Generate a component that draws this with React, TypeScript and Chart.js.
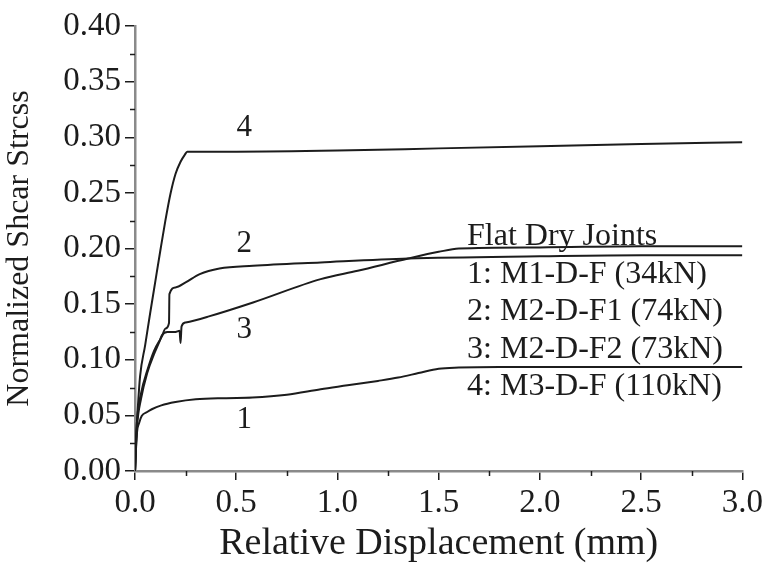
import React, { useEffect, useRef } from 'react';
import { Chart, registerables } from 'chart.js';

Chart.register(...registerables);

// ---- data ----
const xAxisTitle = 'Relative Displacement (mm)';
const yAxisTitle = 'Normalized Shcar Strcss';
const legendTitle = 'Flat Dry Joints';
const seriesNames = ['1: M1-D-F (34kN)', '2: M2-D-F1 (74kN)', '3: M2-D-F2 (73kN)', '4: M3-D-F (110kN)'];
const curveLabels = ['1', '2', '3', '4'];
const curveLabelX = [0.54, 0.54, 0.54, 0.54];
const curveLabelY = [0.046, 0.204, 0.127, 0.308];

const s1X = [0, 0.005, 0.01, 0.02, 0.033, 0.06, 0.083, 0.13, 0.2, 0.3, 0.45, 0.58, 0.75, 0.917, 1.05, 1.2, 1.3, 1.4, 1.5, 1.6, 1.8, 2.0, 2.5, 3.0];
const s1Y = [0, 0.02, 0.035, 0.043, 0.0495, 0.053, 0.0555, 0.059, 0.062, 0.0645, 0.0655, 0.066, 0.0685, 0.0735, 0.077, 0.081, 0.084, 0.088, 0.092, 0.093, 0.0935, 0.0935, 0.0935, 0.0935];

const s2X = [0, 0.005, 0.01, 0.03, 0.06, 0.094, 0.133, 0.15, 0.168, 0.17, 0.2, 0.25, 0.32, 0.417, 0.583, 0.917, 1.35, 2.0, 2.5, 3.0];
const s2Y = [0, 0.025, 0.045, 0.07, 0.09, 0.108, 0.121, 0.128, 0.133, 0.159, 0.165, 0.1695, 0.177, 0.182, 0.1845, 0.1875, 0.191, 0.193, 0.194, 0.194];

const s3X = [0, 0.005, 0.01, 0.03, 0.06, 0.094, 0.12, 0.133, 0.16, 0.2, 0.22, 0.225, 0.23, 0.25, 0.365, 0.583, 0.917, 1.1, 1.35, 1.5, 1.6, 2.0, 2.5, 3.0];
const s3Y = [0, 0.022, 0.04, 0.065, 0.088, 0.105, 0.116, 0.122, 0.125, 0.125, 0.126, 0.115, 0.13, 0.1335, 0.139, 0.1515, 0.1725, 0.18, 0.191, 0.197, 0.2, 0.201, 0.202, 0.202];

const s4X = [0, 0.004, 0.01, 0.025, 0.05, 0.075, 0.1, 0.125, 0.15, 0.175, 0.2, 0.225, 0.245, 0.258, 0.5, 1.0, 1.5, 2.0, 2.5, 3.0];
const s4Y = [0, 0.025, 0.045, 0.085, 0.113, 0.142, 0.17, 0.198, 0.225, 0.249, 0.267, 0.278, 0.284, 0.287, 0.287, 0.288, 0.29, 0.292, 0.294, 0.2955];

const xMin = 0, xMax = 3.0, xStep = 0.5;
const yMin = 0, yMax = 0.4, yStep = 0.05;

const SERIF = '"Liberation Serif", "Times New Roman", serif';
const INK = '#1c1c1c';

function toPoints(xs: number[], ys: number[]) {
  return xs.map((x, i) => ({ x, y: ys[i] }));
}

const annotatePlugin = {
  id: 'annotate',
  afterDraw(chart: any) {
    const { ctx, scales } = chart;
    const xs = scales.x, ys = scales.y;
    ctx.save();
    // minor ticks
    ctx.strokeStyle = INK;
    ctx.lineWidth = 1.5;
    for (let v = yMin + yStep / 2; v < yMax; v += yStep) {
      const py = Math.round(ys.getPixelForValue(v)) + 0.5;
      ctx.beginPath();
      ctx.moveTo(xs.left - 5, py);
      ctx.lineTo(xs.left, py);
      ctx.stroke();
    }
    for (let v = xMin + xStep / 2; v < xMax; v += xStep) {
      const px = Math.round(xs.getPixelForValue(v)) + 0.5;
      ctx.beginPath();
      ctx.moveTo(px, ys.bottom);
      ctx.lineTo(px, ys.bottom + 5);
      ctx.stroke();
    }
    // curve labels
    ctx.fillStyle = INK;
    ctx.font = `31px ${SERIF}`;
    ctx.textAlign = 'center';
    ctx.textBaseline = 'middle';
    curveLabels.forEach((t, i) => {
      ctx.fillText(t, xs.getPixelForValue(curveLabelX[i]), ys.getPixelForValue(curveLabelY[i]));
    });
    // legend text
    ctx.font = `32px ${SERIF}`;
    ctx.textAlign = 'left';
    ctx.textBaseline = 'alphabetic';
    const lx = xs.getPixelForValue(1.64);
    const top = ys.getPixelForValue(0.203);
    const gap = 37.5;
    ctx.fillText(legendTitle, lx, top);
    seriesNames.forEach((t, i) => {
      ctx.fillText(t, lx, top + gap * (i + 1));
    });
    ctx.restore();
  },
};

export default function App() {
  const ref = useRef<HTMLCanvasElement | null>(null);
  useEffect(() => {
    if (!ref.current) return;
    const lineStyle = {
      showLine: true,
      borderColor: INK,
      borderWidth: 2,
      pointRadius: 0,
      fill: false,
      cubicInterpolationMode: 'monotone' as const,
    };
    const chart = new Chart(ref.current, {
      type: 'scatter',
      data: {
        datasets: [
          { label: seriesNames[0], data: toPoints(s1X, s1Y), ...lineStyle },
          { label: seriesNames[1], data: toPoints(s2X, s2Y), ...lineStyle },
          { label: seriesNames[2], data: toPoints(s3X, s3Y), ...lineStyle },
          { label: seriesNames[3], data: toPoints(s4X, s4Y), ...lineStyle },
        ],
      },
      options: {
        animation: false,
        responsive: true,
        maintainAspectRatio: false,
        layout: { padding: { top: 26, right: 23, left: 0, bottom: 0 } },
        plugins: { legend: { display: false }, tooltip: { enabled: false } },
        scales: {
          x: {
            type: 'linear',
            min: xMin,
            max: xMax,
            afterFit(scale: any) { scale.height = 93; },
            ticks: {
              stepSize: xStep,
              color: INK,
              padding: 4,
              font: { family: SERIF, size: 33 },
              maxRotation: 0,
              callback: (v: any) => Number(v).toFixed(1),
            },
            grid: { drawOnChartArea: false, drawTicks: true, tickLength: 9, color: INK, lineWidth: 1.5 },
            border: { display: true, color: '#8a8a8a', width: 2.5 },
            title: { display: true, text: xAxisTitle, color: INK, font: { family: SERIF, size: 38, lineHeight: 1 }, padding: { top: 0, bottom: 1 } },
          },
          y: {
            type: 'linear',
            min: yMin,
            max: yMax,
            afterFit(scale: any) { scale.width = 135; },
            ticks: {
              stepSize: yStep,
              color: INK,
              padding: 4,
              font: { family: SERIF, size: 33 },
              callback: (v: any) => Number(v).toFixed(2),
            },
            grid: { drawOnChartArea: false, drawTicks: true, tickLength: 10, color: INK, lineWidth: 1.5 },
            border: { display: true, color: '#8a8a8a', width: 2.5 },
            title: { display: true, text: yAxisTitle, color: INK, font: { family: SERIF, size: 32 }, padding: { top: 0, bottom: 8 } },
          },
        },
      },
      plugins: [annotatePlugin],
    });
    return () => chart.destroy();
  }, []);
  return (
    <div style={{ position: 'absolute', left: 0, top: 0, width: 767, height: 564, background: '#fff' }}>
      <canvas ref={ref} />
    </div>
  );
}
